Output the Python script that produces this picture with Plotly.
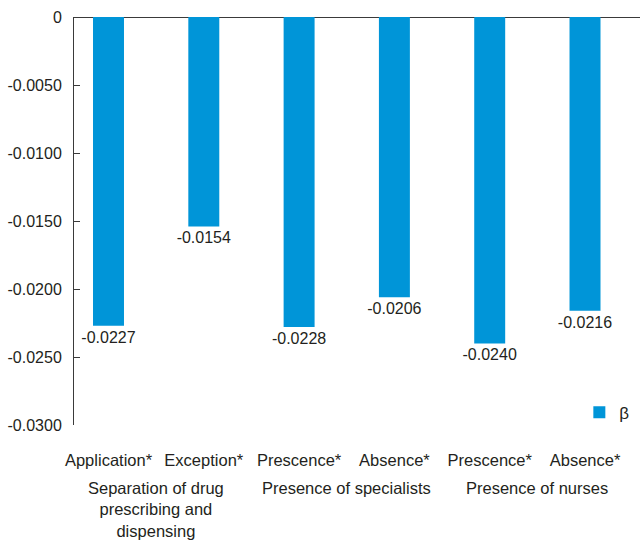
import plotly.graph_objects as go

# Regression coefficients (beta) by category
positions = [0, 1, 2, 3, 4, 5]
categories = ["Application*", "Exception*", "Prescence*", "Absence*", "Prescence*", "Absence*"]
betas = [-0.0227, -0.0154, -0.0228, -0.0206, -0.0240, -0.0216]
bar_labels = ["-0.0227", "-0.0154", "-0.0228", "-0.0206", "-0.0240", "-0.0216"]

# Group headings and the categories each one spans
groups = ["Separation of drug<br>prescribing and<br>dispensing",
          "Presence of specialists",
          "Presence of nurses"]
group_spans = [(0, 1), (2, 3), (4, 5)]

# Y axis ticks
y_ticks = [0, -0.005, -0.010, -0.015, -0.020, -0.025, -0.030]
y_tick_labels = ["0", "-0.0050", "-0.0100", "-0.0150", "-0.0200", "-0.0250", "-0.0300"]

BLUE = "#0095d8"
TEXT = "#231f20"
FONT = "Liberation Sans, Arial, sans-serif"

fig = go.Figure()
fig.add_trace(go.Bar(
    x=positions, y=betas, name="β",
    marker=dict(color=BLUE, line=dict(width=0)),
    width=0.325,
    text=bar_labels, textposition="outside", constraintext="none",
    textfont=dict(size=16, color=TEXT, family=FONT),
    cliponaxis=False,
))

for name, (a, b) in zip(groups, group_spans):
    fig.add_annotation(
        x=(a + b) / 2, xref="x", y=-0.128, yref="paper",
        yanchor="top", xanchor="center", showarrow=False,
        text=name, align="center",
        font=dict(size=16.5, color=TEXT, family=FONT),
    )

fig.update_layout(
    width=640, height=542,
    margin=dict(l=74, r=0, t=17, b=117),
    paper_bgcolor="white", plot_bgcolor="white",
    font=dict(family=FONT, color=TEXT, size=16),
    showlegend=True,
    legend=dict(x=0.99, xanchor="right", y=0.03, yanchor="middle",
                bgcolor="rgba(0,0,0,0)", font=dict(size=17, color=TEXT),
                itemwidth=30),
    bargap=0.66,
)

fig.update_xaxes(
    range=[-0.362, 5.577],
    tickmode="array", tickvals=positions, ticktext=categories,
    tickfont=dict(size=16.5, color=TEXT, family=FONT),
    showgrid=False, zeroline=False, showline=False, ticks="",
    ticklabelstandoff=23,
)
fig.update_yaxes(
    range=[-0.030, 0],
    tickmode="array", tickvals=y_ticks, ticktext=y_tick_labels,
    tickfont=dict(size=16, color=TEXT, family=FONT),
    showgrid=False,
    zeroline=True, zerolinecolor="#3a3a3a", zerolinewidth=1,
    showline=True, linecolor="#3a3a3a", linewidth=1,
    ticks="inside", ticklen=6, tickcolor="#3a3a3a", tickwidth=1,
    ticklabelstandoff=8,
)

fig.write_html("out.html")
